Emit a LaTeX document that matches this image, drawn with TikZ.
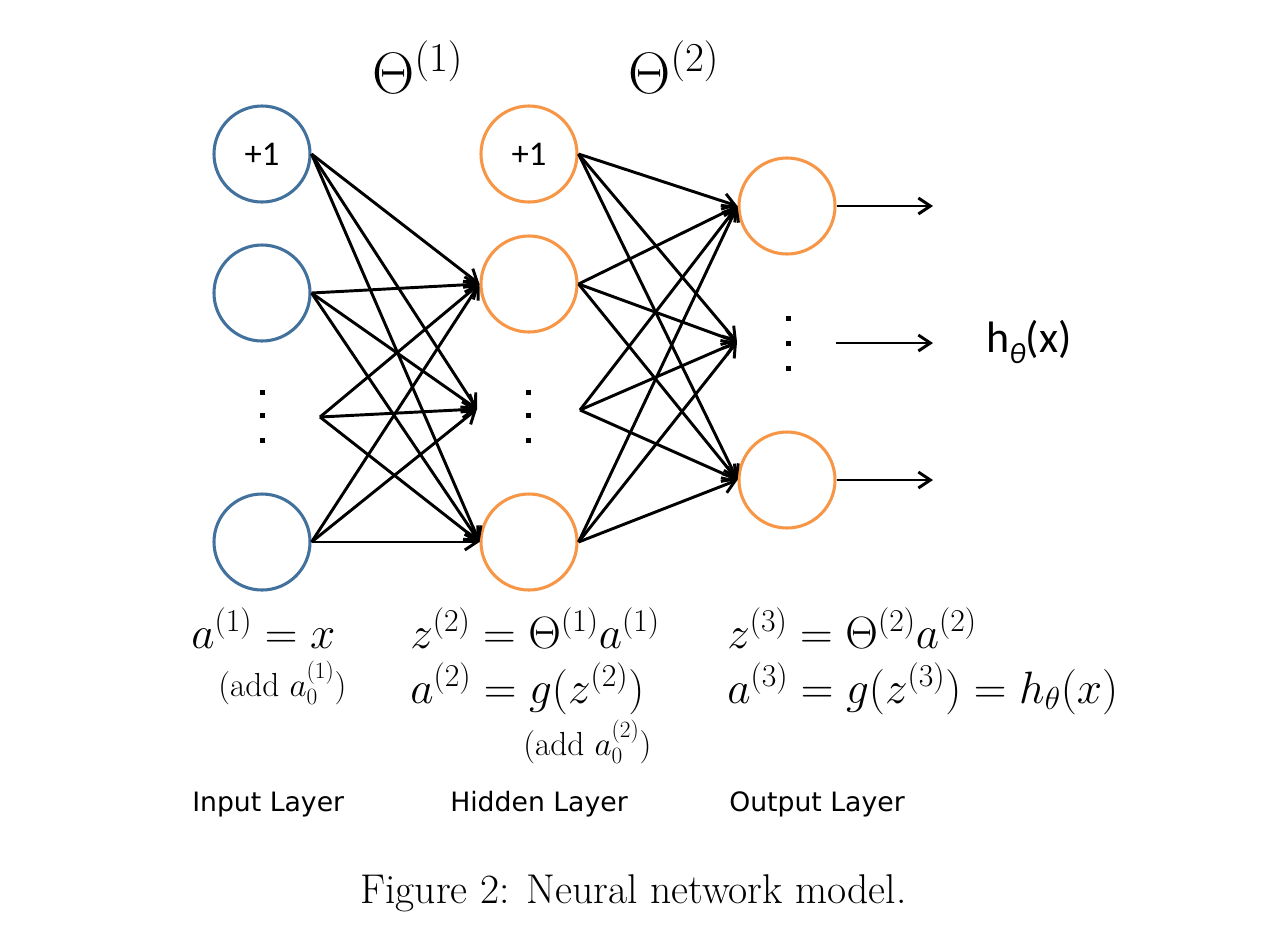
\RequirePackage{fix-cm}
\documentclass[tikz,border=0pt]{standalone}
\usepackage{amsmath}
\usepackage{fontspec}
\newfontfamily\calib{Carlito}
\newfontfamily\tah{DejaVu Sans}
\usetikzlibrary{arrows.meta}
\definecolor{nblue}{RGB}{65,113,156}
\definecolor{norange}{RGB}{247,150,70}
\begin{document}
\begin{tikzpicture}[x=0.75pt,y=-0.75pt,
  neuron/.style={circle,line width=2.3pt,minimum size=72pt,inner sep=0pt,font=\calib\fontsize{26}{30}\selectfont},
  inp/.style={neuron,draw=nblue},
  hid/.style={neuron,draw=norange},
  conn/.style={line width=2.2pt,-{Straight Barb[length=9pt,width=12pt]}},
  eq/.style={anchor=base west,inner sep=0pt,font=\fontsize{34}{40}\selectfont},
  addnote/.style={anchor=base west,inner sep=0pt,font=\fontsize{25}{30}\selectfont},
  theta/.style={anchor=base west,inner sep=0pt,font=\fontsize{44}{50}\selectfont},
  layerlbl/.style={anchor=base west,inner sep=0pt,font=\tah\fontsize{20}{24}\selectfont},
  outlbl/.style={anchor=base west,inner sep=0pt,font=\calib\fontsize{33}{38}\selectfont},
  caption/.style={anchor=base west,inner sep=0pt,font=\fontsize{31.2}{36}\selectfont}
]
\useasboundingbox[fill=white] (0,0) rectangle (1280,940);

% neurons
\node[inp] (i0) at (262,154) {+1};
\node[inp] (i1) at (262,293) {};
\node[inp] (i2) at (262,542) {};
\node[hid] (h0) at (529,154) {+1};
\node[hid] (h1) at (529,284) {};
\node[hid] (h2) at (529,542) {};
\node[hid] (o1) at (787,206) {};
\node[hid] (o3) at (787,480) {};

% dots
\foreach \x/\ys in {262/392,262/415,262/440,528/392,528/415,528/440,788/318,788/343,788/368}
  \fill[black] (\x-2.5,\ys-2.5) rectangle (\x+2.5,\ys+2.5);

% free ends
\coordinate (idots) at (320,417);
\coordinate (hdin) at (477,409);
\coordinate (hdout) at (580,410);
\coordinate (odin) at (737,342);
\coordinate (odout) at (836,343);
\coordinate (e1) at (933,206);
\coordinate (e2) at (933,343);
\coordinate (e3) at (933,480);

% input -> hidden
\foreach \s in {i0.east,i1.east,idots,i2.east}
  \foreach \t in {h1.west,hdin,h2.west}
    \draw[conn] (\s) -- (\t);
% hidden -> output
\foreach \s in {h0.east,h1.east,hdout,h2.east}
  \foreach \t in {o1.west,odin,o3.west}
    \draw[conn] (\s) -- (\t);
% outputs
\draw[conn] (o1.east) -- (e1);
\draw[conn] (odout) -- (e2);
\draw[conn] (o3.east) -- (e3);

\node[outlbl] (hx) at (986,352) {h\raisebox{-0.25em}{\fontsize{22}{26}\selectfont\itshape θ}(x)};

% Theta labels
\node[theta] (t1) at (372,93) {$\Theta^{(1)}$};
\node[theta] (t2) at (628,93) {$\Theta^{(2)}$};

% equations
\node[eq] (eqa1) at (191,648) {$a^{(1)}=x$};
\node[addnote] (add1) at (218,696) {(add $a_0^{(1)}$)};
\node[eq] (eqz2) at (410,648) {$z^{(2)}=\Theta^{(1)}a^{(1)}$};
\node[eq] (eqa2) at (410,703) {$a^{(2)}=g(z^{(2)})$};
\node[addnote] (add2) at (523,755) {(add $a_0^{(2)}$)};
\node[eq] (eqz3) at (727,648) {$z^{(3)}=\Theta^{(2)}a^{(2)}$};
\node[eq] (eqa3) at (727,703) {$a^{(3)}=g(z^{(3)})=h_\theta(x)$};

% layer labels
\node[layerlbl] (lin) at (192,811) {Input Layer};
\node[layerlbl] (lhid) at (450,811) {Hidden Layer};
\node[layerlbl] (lout) at (729,811) {Output Layer};

% caption
\node[caption] (cap) at (360,903) {Figure 2: Neural network model.};
\end{tikzpicture}
\end{document}
